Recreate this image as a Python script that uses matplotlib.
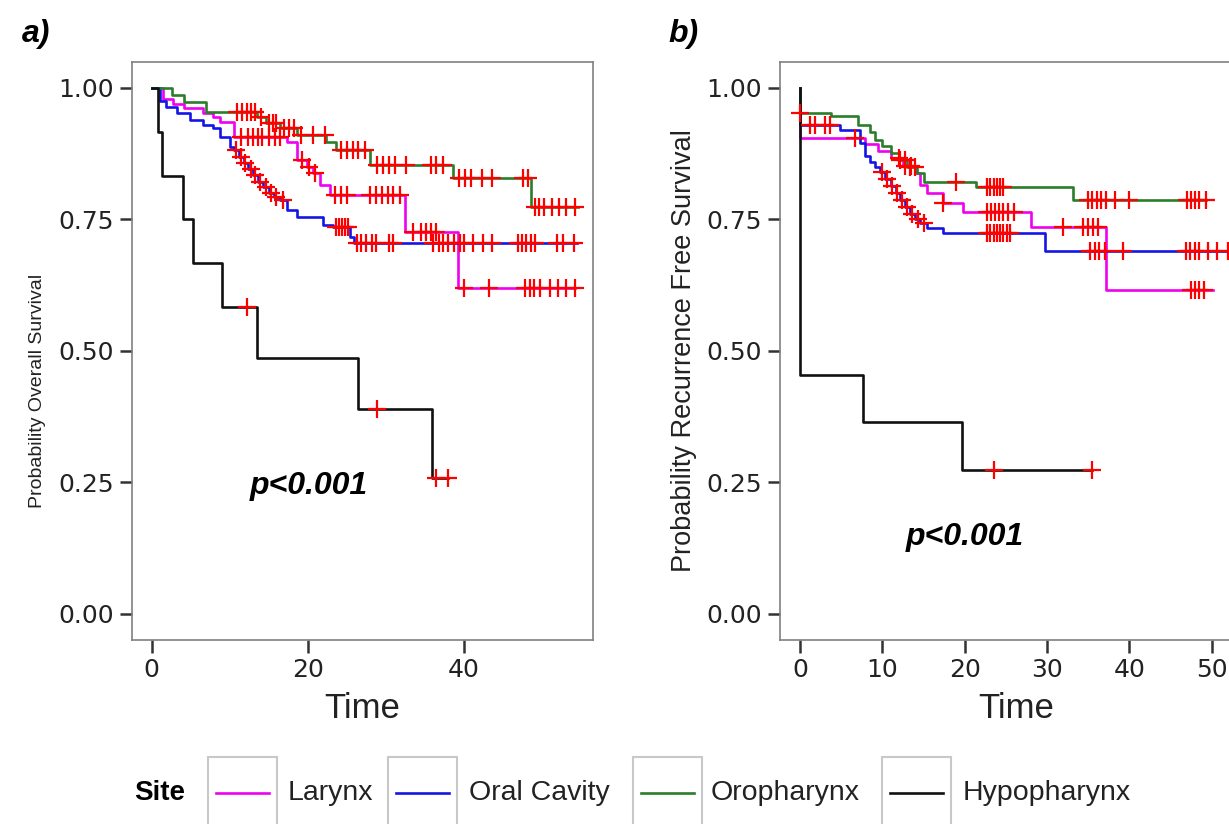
import numpy as np
import matplotlib
matplotlib.use("Agg")
import matplotlib.pyplot as plt
from matplotlib.patches import Rectangle
from matplotlib.lines import Line2D

plt.rcParams['font.family'] = ['Liberation Sans', 'DejaVu Sans']

W, H = 1229, 824

sites = ["Larynx", "Oral Cavity", "Oropharynx", "Hypopharynx"]
colors = ["#F000F0", "#1414E6", "#2A7D2A", "#111111"]

# a) overall survival: step times, survival values, last time, censored times
os_lar_t = [0, 1.5, 2.8, 4.1, 6.6, 7.9, 8.8, 10.5, 17.3, 18.6, 19.9, 20.7, 21.6, 22.9, 32.5, 39.3]
os_lar_s = [1.0, 0.980, 0.970, 0.962, 0.953, 0.945, 0.935, 0.907, 0.898, 0.863, 0.850, 0.838, 0.816, 0.797, 0.727, 0.619]
os_lar_end = 54.3
os_lar_cens = [11.5, 12.3, 13.0, 13.6, 14.2, 15.0, 15.8, 16.5, 19.3, 20.2, 21.0, 23.5, 24.3, 25.0, 28.0,
               28.8, 29.5, 30.3, 31.0, 31.8, 33.5, 34.5, 35.2, 35.8, 36.5, 40.1, 43.3, 47.9, 48.5, 49.0,
               49.8, 51.1, 52.1, 53.2, 54.3]

os_oc_t = [0, 1.1, 1.9, 3.2, 4.9, 6.6, 7.9, 8.8, 10.0, 10.5, 11.2, 11.8, 12.4, 13.0, 13.6, 14.3, 15.0,
           15.7, 16.4, 17.3, 18.6, 22.0, 23.3, 25.4, 25.9]
os_oc_s = [1.0, 0.975, 0.964, 0.952, 0.939, 0.930, 0.924, 0.907, 0.888, 0.882, 0.869, 0.857, 0.846, 0.834,
           0.822, 0.811, 0.800, 0.793, 0.787, 0.768, 0.755, 0.740, 0.736, 0.717, 0.705]
os_oc_end = 54.5
os_oc_cens = [10.8, 11.5, 12.0, 12.7, 13.3, 13.9, 14.6, 15.3, 16.0, 16.8, 23.6, 24.0, 24.4, 24.8, 25.2,
              26.3, 26.8, 27.5, 28.3, 28.8, 30.5, 31.0, 36.1, 36.8, 37.4, 38.0, 38.8, 39.5, 40.0, 41.2,
              42.5, 43.6, 47.0, 47.5, 48.0, 48.6, 49.2, 52.0, 52.8, 54.1]

os_oro_t = [0, 2.6, 4.1, 7.0, 13.5, 14.7, 16.4, 18.6, 22.4, 23.7, 28.0, 38.7, 48.7]
os_oro_s = [1.0, 0.987, 0.974, 0.955, 0.944, 0.933, 0.923, 0.910, 0.898, 0.882, 0.853, 0.828, 0.774]
os_oro_end = 54.7
os_oro_cens = [11.0, 11.6, 12.2, 12.8, 13.3, 14.0, 15.0, 15.6, 16.0, 17.0, 17.6, 18.2, 19.2, 20.7, 22.2,
               24.3, 25.0, 25.8, 26.5, 27.3, 28.9, 29.7, 30.4, 31.2, 32.6, 35.8, 36.5, 37.4, 39.4, 40.2,
               41.0, 42.4, 43.6, 47.6, 48.2, 49.2, 49.7, 50.3, 51.3, 52.2, 53.2, 54.3]

os_hyp_t = [0, 0.8, 1.3, 4.0, 5.3, 9.0, 13.5, 26.5, 36.0]
os_hyp_s = [1.0, 0.917, 0.833, 0.750, 0.667, 0.583, 0.486, 0.389, 0.259]
os_hyp_end = 38.0
os_hyp_cens = [12.2, 28.9, 36.5, 38.0]

# b) recurrence free survival
rfs_lar_t = [0, 0, 7.9, 9.5, 11.0, 12.5, 14.0, 14.6, 15.4, 17.4, 19.8, 28.1, 37.1]
rfs_lar_s = [1.0, 0.904, 0.893, 0.880, 0.866, 0.852, 0.838, 0.815, 0.800, 0.781, 0.765, 0.736, 0.616]
rfs_lar_end = 50.2
rfs_lar_cens = [6.7, 12.0, 12.8, 13.5, 17.4, 22.7, 23.2, 23.7, 24.2, 24.7, 25.3, 26.0, 31.9, 34.4, 35.0,
                35.6, 36.2, 47.5, 48.0, 48.5, 49.0]

rfs_oc_t = [0, 0, 4.9, 7.3, 7.9, 8.5, 9.1, 9.7, 10.3, 11.0, 11.6, 12.2, 12.8, 13.4, 14.0, 14.6, 15.4,
            17.4, 29.7]
rfs_oc_s = [1.0, 0.930, 0.920, 0.895, 0.870, 0.860, 0.850, 0.840, 0.827, 0.814, 0.800, 0.787, 0.773,
            0.760, 0.750, 0.743, 0.734, 0.724, 0.689]
rfs_oc_end = 52.0
rfs_oc_cens = [1.2, 1.8, 3.0, 3.6, 10.0, 10.6, 11.2, 11.8, 12.4, 13.0, 13.6, 14.3, 15.0, 22.7, 23.1,
               23.5, 23.9, 24.3, 24.7, 25.1, 25.5, 35.2, 35.8, 36.3, 37.0, 39.2, 46.9, 47.4, 47.9, 48.5,
               49.5, 50.6, 52.0]

rfs_oro_t = [0, 0, 3.8, 7.1, 8.5, 9.1, 10.0, 11.0, 12.0, 13.0, 14.2, 15.0, 21.4, 33.2]
rfs_oro_s = [1.0, 0.952, 0.946, 0.930, 0.917, 0.901, 0.890, 0.877, 0.863, 0.850, 0.838, 0.822, 0.812, 0.787]
rfs_oro_end = 49.3
rfs_oro_cens = [0.0, 12.2, 12.8, 13.4, 14.0, 19.0, 22.7, 23.1, 23.5, 23.9, 24.3, 24.7, 35.0, 35.5, 36.0,
                36.6, 37.2, 38.2, 40.0, 47.0, 47.5, 48.0, 48.5, 49.3]

rfs_hyp_t = [0, 0, 7.6, 19.7]
rfs_hyp_s = [1.0, 0.4545, 0.364, 0.273]
rfs_hyp_end = 35.5
rfs_hyp_cens = [23.6, 35.5]

os_data = [(os_lar_t, os_lar_s, os_lar_end, os_lar_cens),
           (os_oc_t, os_oc_s, os_oc_end, os_oc_cens),
           (os_oro_t, os_oro_s, os_oro_end, os_oro_cens),
           (os_hyp_t, os_hyp_s, os_hyp_end, os_hyp_cens)]
rfs_data = [(rfs_lar_t, rfs_lar_s, rfs_lar_end, rfs_lar_cens),
            (rfs_oc_t, rfs_oc_s, rfs_oc_end, rfs_oc_cens),
            (rfs_oro_t, rfs_oro_s, rfs_oro_end, rfs_oro_cens),
            (rfs_hyp_t, rfs_hyp_s, rfs_hyp_end, rfs_hyp_cens)]


def draw_km(ax, data):
    # lines first, censoring marks on top
    for (t, s, t_end, cens), col in zip(data, colors):
        ax.step(list(t) + [t_end], list(s) + [s[-1]], where='post', color=col, lw=1.9)
    for (t, s, t_end, cens), col in zip(data, colors):
        idx = np.searchsorted(np.array(t), np.array(cens), side='right') - 1
        ax.plot(cens, np.array(s)[idx], ls='none', marker='+', color='red',
                markersize=13, markeredgewidth=1.6)


def style_axes(ax, xticks, ylabel, ylabel_size):
    ax.set_ylim(-0.05, 1.05)
    ax.set_yticks([0, 0.25, 0.5, 0.75, 1.0])
    ax.set_yticklabels(["0.00", "0.25", "0.50", "0.75", "1.00"])
    ax.set_xticks(xticks)
    for sp in ax.spines.values():
        sp.set_color('#808080')
        sp.set_linewidth(1.2)
    ax.tick_params(direction='out', length=9, width=1.8, color='#333333',
                   labelsize=18, labelcolor='#222222')
    ax.tick_params(axis='x', pad=4)
    ax.tick_params(axis='y', pad=4)
    for lab in ax.get_xticklabels() + ax.get_yticklabels():
        lab.set_family('DejaVu Sans')
    ax.set_xlabel("Time", fontsize=25, color='#222222', labelpad=7)
    ax.set_ylabel(ylabel, fontsize=ylabel_size, color='#222222')


fig = plt.figure(figsize=(W / 100, H / 100), dpi=100)

ax_a = fig.add_axes([131.7 / W, 1 - 640 / H, (593 - 131.7) / W, (640 - 61.7) / H])
draw_km(ax_a, os_data)
ax_a.set_xlim(-2.56, 56.6)
style_axes(ax_a, [0, 20, 40], "Probability Overall Survival", 14)
ax_a.yaxis.set_label_coords(-0.185, 0.43)
ax_a.text(20.2, 0.242, "p<0.001", fontsize=23, fontweight='bold', fontstyle='italic',
          ha='center', va='center')

ax_b = fig.add_axes([780 / W, 1 - 640 / H, (1253 - 780) / W, (640 - 61.7) / H])
draw_km(ax_b, rfs_data)
ax_b.set_xlim(-2.43, 55.0)
style_axes(ax_b, [0, 10, 20, 30, 40, 50], "Probability Recurrence Free Survival", 19.5)
ax_b.yaxis.set_label_coords(-0.175, 0.5)
ax_b.text(20.0, 0.146, "p<0.001", fontsize=23, fontweight='bold', fontstyle='italic',
          ha='center', va='center')

# panel tags
fig.text(22 / W, 1 - 42 / H, "a)", fontsize=23, fontweight='bold', fontstyle='italic')
fig.text(668 / W, 1 - 42 / H, "b)", fontsize=23, fontweight='bold', fontstyle='italic')

# legend at the bottom
leg_y = 1 - 793 / H
fig.text(134 / W, leg_y, "Site", fontsize=20, fontweight='bold', va='center')
box_left = [208, 388, 633, 882]
text_left = [288, 469, 711, 963]
for bx, tx, name, col in zip(box_left, text_left, sites, colors):
    fig.patches.append(Rectangle((bx / W, 1 - 830 / H), 69 / W, 73 / H, transform=fig.transFigure,
                                 facecolor='white', edgecolor='#c8c8c8', lw=1.5))
    fig.lines.append(Line2D([(bx + 8) / W, (bx + 61) / W], [leg_y, leg_y], transform=fig.transFigure,
                            color=col, lw=1.9))
    fig.text(tx / W, leg_y, name, fontsize=20.5, va='center', color='#222222')

fig.savefig("out.png", dpi=100)
